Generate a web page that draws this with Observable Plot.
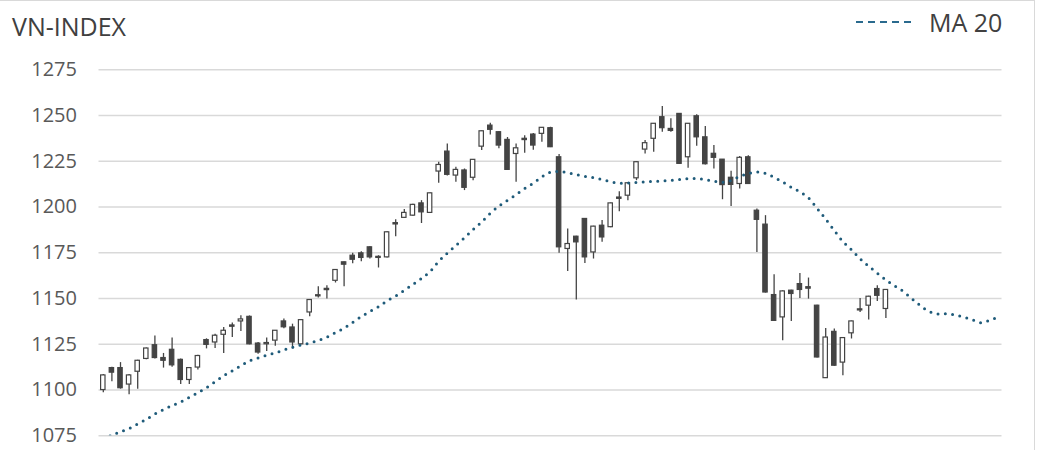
<!DOCTYPE html>
<html>
<head>
<meta charset="utf-8">
<script src="https://cdn.jsdelivr.net/npm/d3@7"></script>
<script src="https://cdn.jsdelivr.net/npm/@observablehq/plot@0.6"></script>
<style>
  html, body { margin: 0; padding: 0; background: #fff; }
  #wrap { position: relative; width: 1048px; height: 450px; overflow: hidden; font-family: "Open Sans", sans-serif; }
  #frame { position: absolute; left: -2px; top: 0; width: 1037px; height: 470px; border: 1.5px solid #d9d9d9; box-sizing: border-box; pointer-events: none; }
  #header { position: relative; height: 45px; }
  #title { position: absolute; left: 12px; top: 9px; font-size: 25px; color: #404040; white-space: nowrap; }
  #legend { position: absolute; left: 855px; top: 5px; font-size: 25px; color: #404040; white-space: nowrap; display: flex; align-items: center; }
  #legend svg { margin-right: 12px; }
</style>
</head>
<body>
<div id="wrap">
  <div id="header">
    <div id="title">VN-INDEX</div>
    <div id="legend"><svg width="62" height="10"><line x1="1" y1="5" x2="61" y2="5" stroke="#2a6a8e" stroke-width="2" stroke-dasharray="7,5"></line></svg><span>MA 20</span></div>
  </div>
  <div id="chart"></div>
  <div id="frame"></div>
</div>
<script>
const open = [1100,1112,1112,1103,1110,1117,1124.5,1117.5,1122,1116.5,1105.5,1112.3,1127.3,1126,1130.2,1135.3,1137.5,1140,1125.4,1125,
1127,1137.5,1134.2,1125,1142.4,1151.8,1155.3,1159.7,1169.8,1173.4,1174.7,1178,1172.8,1172.5,1191.2,1194.1,1195.3,1202,1196.8,1219.4,
1230.3,1217.2,1220,1216,1233,1244.5,1240.9,1236.7,1229,1237.3,1239.6,1240,1243.1,1227.2,1177.1,1183.8,1193.5,1175.2,1189.8,1189,
1205.2,1206.2,1215.7,1231.4,1237.3,1249.1,1242.7,1250.9,1227.2,1249.6,1238.1,1229.1,1225.9,1216,1212.6,1227.2,1198,1190.4,1151.9,1139.7,
1154.3,1157.9,1156.2,1146.1,1106.5,1131.8,1115,1131,1144.1,1146.1,1155.2,1144.3];
const close = [1108,1109.5,1101,1108,1116,1122.7,1117.5,1116,1113.5,1105.5,1112,1118.6,1124.7,1129.7,1132.4,1134.6,1138.6,1125,1120.5,1125.7,
1132.4,1134.3,1126,1138.2,1149.2,1151.2,1154.6,1165.6,1168.5,1171.2,1172.2,1172.5,1172.2,1186.2,1190.5,1196.8,1201.2,1197.1,1207.5,1223,
1217.6,1220.3,1210.5,1225.8,1241.4,1242.2,1233.6,1220.3,1232.1,1236.6,1233.6,1243.3,1232.7,1178,1179.8,1180.7,1172.5,1189.3,1183.4,1202,
1204.5,1213,1224.5,1234.9,1245.5,1243.1,1241.6,1223.6,1245.5,1238.1,1223.4,1226.9,1212,1212.1,1226.9,1212.6,1193,1153.3,1137.8,1153.9,
1152.5,1154.7,1155.4,1117.8,1128.7,1113.3,1128.4,1137.5,1143.5,1151,1151.5,1154.7];
const high = [1108.5,1112.5,1115,1108.5,1116.3,1123,1129.5,1120,1128.5,1117,1112.3,1119,1128,1130.5,1134.2,1136.6,1140.6,1140.5,1126,1128.5,
1132.6,1138.8,1136,1138.5,1149.5,1156.5,1157,1165.8,1170,1174.7,1175.6,1178.3,1173.4,1186.5,1193,1198.6,1201.5,1203.5,1207.7,1224.5,
1234.5,1221.7,1220.8,1226,1241.6,1245.8,1241.2,1238,1234.5,1239,1240.2,1243.5,1243.6,1228.7,1188,1184,1193.8,1189.5,1192.6,1202.2,
1208.4,1213.2,1224.7,1236.3,1245.7,1254.9,1248.2,1251,1245.7,1250.4,1244,1233.6,1226,1219.5,1227.6,1228.1,1199,1195.3,1163,1154.2,
1154.5,1163.7,1161.2,1146.3,1133.7,1133.3,1128.6,1137.7,1150,1151.2,1157,1154.9];
const low = [1098.5,1104.5,1100.5,1097.5,1100.5,1116.5,1117,1112,1112.5,1103,1103,1111,1122.5,1122.7,1120,1128.7,1132,1124.7,1119.5,1121,
1124,1133.5,1122.5,1124.7,1140,1150.3,1149.7,1158.5,1156.5,1169,1170.1,1171.6,1166.7,1172.2,1183.8,1194,1195,1191,1196.5,1213,
1217,1213.5,1209,1214.4,1230.9,1239.4,1231.8,1220,1213.5,1229.4,1231,1235.4,1232.5,1174.7,1164.8,1149.2,1169.2,1171.6,1180.7,1188.7,
1197.5,1203.5,1214.4,1229,1230,1240.9,1240.9,1223.4,1221.2,1233.2,1223,1220.8,1204,1200.3,1209.9,1212.3,1175.2,1153,1137.5,1126.9,
1137.5,1150,1149.7,1117.5,1106.3,1113,1107.8,1127.9,1142.4,1138.3,1148.4,1139.1];
const ma20 = [1073.2,1075.3,1077.2,1079,1081.5,1084,1086.9,1089.3,1091.5,1093.5,1096,1098.5,1101.3,1104.5,1107.8,1110.5,1113.3,1116,1117.5,1119,
1120.3,1121.9,1123.4,1124.6,1125.7,1127.1,1128.9,1131.4,1133.8,1137,1140.2,1142.9,1145.5,1148.8,1151.4,1154.5,1157.7,1161,1164.8,1170.3,
1174.8,1179,1183.2,1187.7,1191.9,1196.6,1200.5,1203.7,1206.8,1210.1,1213,1216.5,1219,1219.4,1218.8,1217.7,1216.8,1216,1215,1213.8,
1213.1,1213.1,1213.5,1213.8,1214,1214.3,1214.6,1215,1215.5,1215.5,1215,1214.2,1213.5,1214.5,1216.7,1218.3,1219.2,1218.4,1216.2,1213.7,
1210.8,1208.3,1205,1199.3,1193.4,1187.2,1181.2,1176.7,1171.8,1167.7,1163.9,1160.2,1157,1154,1150,1146.2,1143,1141.6,1141.7,1141,
1139.9,1138.5,1136.8,1138,1139.8];
const yTicks = [1075,1100,1125,1150,1175,1200,1225,1250,1275];
const slotCount = ma20.length;

const candles = open.map((o, i) => ({i, open: o, close: close[i], high: high[i], low: low[i]}));
const maData = ma20.map((v, i) => ({i, ma: v}));

const ink = "#444444";
const chart = Plot.plot({
  width: 1048,
  height: 405,
  marginLeft: 98.5,
  marginRight: 46.5,
  marginTop: 24.3,
  marginBottom: 14.7,
  style: {fontFamily: "'Open Sans', sans-serif", fontSize: "20px", color: "#595959", background: "white"},
  x: {type: "band", domain: d3.range(slotCount), padding: 0, axis: null},
  y: {domain: [1075, 1275], ticks: yTicks, tickSize: 0, tickPadding: 22, tickFormat: d => String(d), label: null},
  marks: [
    Plot.ruleY(yTicks, {stroke: "#d9d9d9", strokeWidth: 1.5}),
    Plot.ruleX(candles, {x: "i", y1: "low", y2: "high", stroke: ink, strokeWidth: 1.3}),
    Plot.barY(candles, {x: "i", y1: "open", y2: "close", insetLeft: 2.1, insetRight: 2.1,
      fill: d => d.close >= d.open ? "white" : ink, stroke: ink, strokeWidth: 1.2}),
    Plot.line(maData, {x: "i", y: "ma", stroke: "#1f5b7a", strokeWidth: 3, strokeDasharray: "0,7.3",
      strokeLinecap: "round", curve: "catmull-rom", clip: true})
  ]
});
document.getElementById("chart").appendChild(chart);
</script>
</body>
</html>
